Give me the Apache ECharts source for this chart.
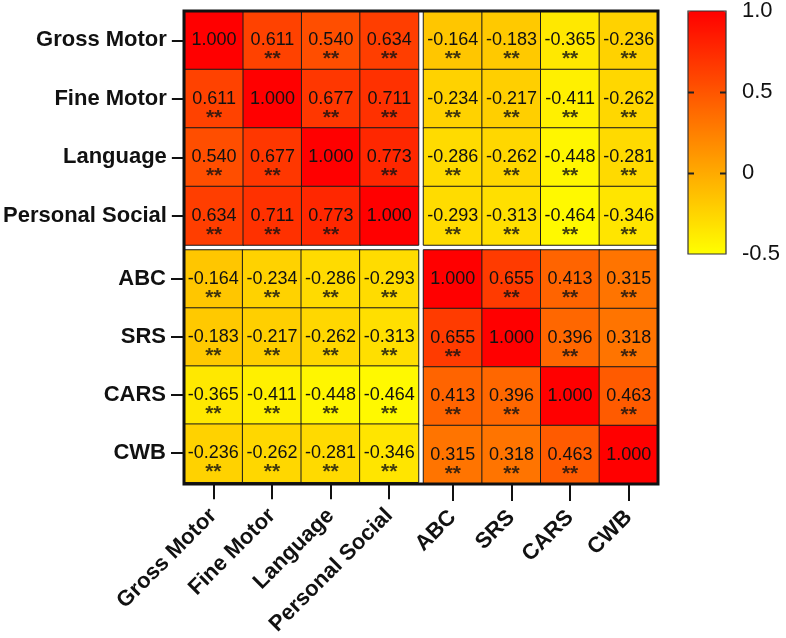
<!DOCTYPE html>
<html>
<head>
<meta charset="utf-8">
<script src="https://cdn.jsdelivr.net/npm/echarts@6/dist/echarts.min.js"></script>
<style>
html,body{margin:0;padding:0;background:#fff;}
#chart{width:786px;height:638px;}
</style>
</head>
<body>
<div id="chart"></div>
<script>
// ---- data ----
const developmentVars = ['Gross Motor', 'Fine Motor', 'Language', 'Personal Social'];
const autismVars = ['ABC', 'SRS', 'CARS', 'CWB'];
const rowGrossMotor    = [1.000, 0.611, 0.540, 0.634, -0.164, -0.183, -0.365, -0.236];
const rowFineMotor     = [0.611, 1.000, 0.677, 0.711, -0.234, -0.217, -0.411, -0.262];
const rowLanguage      = [0.540, 0.677, 1.000, 0.773, -0.286, -0.262, -0.448, -0.281];
const rowPersonalSoc   = [0.634, 0.711, 0.773, 1.000, -0.293, -0.313, -0.464, -0.346];
const rowABC           = [-0.164, -0.234, -0.286, -0.293, 1.000, 0.655, 0.413, 0.315];
const rowSRS           = [-0.183, -0.217, -0.262, -0.313, 0.655, 1.000, 0.396, 0.318];
const rowCARS          = [-0.365, -0.411, -0.448, -0.464, 0.413, 0.396, 1.000, 0.463];
const rowCWB           = [-0.236, -0.262, -0.281, -0.346, 0.315, 0.318, 0.463, 1.000];
const sigGrossMotor    = ['', '**', '**', '**', '**', '**', '**', '**'];
const sigFineMotor     = ['**', '', '**', '**', '**', '**', '**', '**'];
const sigLanguage      = ['**', '**', '', '**', '**', '**', '**', '**'];
const sigPersonalSoc   = ['**', '**', '**', '', '**', '**', '**', '**'];
const sigABC           = ['**', '**', '**', '**', '', '**', '**', '**'];
const sigSRS           = ['**', '**', '**', '**', '**', '', '**', '**'];
const sigCARS          = ['**', '**', '**', '**', '**', '**', '', '**'];
const sigCWB           = ['**', '**', '**', '**', '**', '**', '**', ''];
const colorbarTicks = { min: -0.5, max: 1.0, interval: 0.5 };
const colorStops = ['#FFFF00', '#FF0000'];

const matrix = [rowGrossMotor, rowFineMotor, rowLanguage, rowPersonalSoc, rowABC, rowSRS, rowCARS, rowCWB];
const sigMatrix = [sigGrossMotor, sigFineMotor, sigLanguage, sigPersonalSoc, sigABC, sigSRS, sigCARS, sigCWB];

// ---- layout ----
const FONT = "'Liberation Sans', Arial, sans-serif";
const X0 = 184, Y0 = 11, GAP = 5;
const BW = 234.5, BH = 234; // block sizes
const blocks = [
  { r: 0, c: 0 }, { r: 0, c: 1 }, { r: 1, c: 0 }, { r: 1, c: 1 }
];
const groups = [developmentVars, autismVars];

const chart = echarts.init(document.getElementById('chart'), null, { renderer: 'canvas' });

const grids = [], xAxes = [], yAxes = [], series = [];
blocks.forEach((b, i) => {
  grids.push({
    left: X0 + b.c * (BW + GAP), top: Y0 + b.r * (BH + GAP),
    width: BW, height: BH, containLabel: false
  });
  const showX = b.r === 1, showY = b.c === 0;
  xAxes.push({
    type: 'category', gridIndex: i, data: groups[b.c], position: 'bottom',
    axisLine: { show: false },
    axisTick: { show: showX, alignWithLabel: true, length: 17, lineStyle: { color: '#111', width: 2 } },
    axisLabel: { show: showX, rotate: 45, interval: 0, margin: 30, fontSize: 22, fontWeight: 'bold', color: '#111', fontFamily: FONT },
    splitLine: { show: false }
  });
  yAxes.push({
    type: 'category', gridIndex: i, data: groups[b.r], inverse: true,
    axisLine: { show: false },
    axisTick: { show: showY, alignWithLabel: true, length: 13, lineStyle: { color: '#111', width: 2 } },
    axisLabel: { show: showY, interval: 0, margin: 18, fontSize: 22, fontWeight: 'bold', color: '#111', fontFamily: FONT },
    splitLine: { show: false }
  });
  const hm = [], st = [];
  for (let yi = 0; yi < 4; yi++) {
    for (let xi = 0; xi < 4; xi++) {
      const R = b.r * 4 + yi, C = b.c * 4 + xi;
      hm.push([xi, yi, matrix[R][C]]);
      if (sigMatrix[R][C]) st.push([xi, yi, sigMatrix[R][C]]);
    }
  }
  series.push({
    type: 'heatmap', xAxisIndex: i, yAxisIndex: i, data: hm,
    itemStyle: { borderColor: '#1a1a1a', borderWidth: 1 },
    label: {
      show: true, fontSize: 18, color: '#111', fontFamily: FONT,
      formatter: p => p.value[2].toFixed(3)
    },
    emphasis: { disabled: true }
  });
  series.push({
    type: 'scatter', xAxisIndex: i, yAxisIndex: i, data: st,
    symbolSize: 1, itemStyle: { color: 'rgba(0,0,0,0)' },
    label: {
      show: true, position: 'inside', offset: [0, 19], fontSize: 21, fontWeight: 'bold', color: '#111', fontFamily: FONT,
      formatter: p => p.value[2]
    },
    z: 5, silent: true
  });
});

// colorbar: visualMap bar + an axis frame on top of it
const CB = { left: 688, top: 11, width: 38, height: 243 };
grids.push({
  show: true, z: 10, left: CB.left, top: CB.top, width: CB.width, height: CB.height,
  backgroundColor: 'transparent', borderColor: '#333', borderWidth: 1.2
});
xAxes.push({ type: 'value', gridIndex: 4, min: 0, max: 1, show: false });
const cbLabelFmt = v => (v === 0 ? '0' : v.toFixed(1));
yAxes.push({
  type: 'value', gridIndex: 4, position: 'right', z: 12,
  min: colorbarTicks.min, max: colorbarTicks.max, interval: colorbarTicks.interval,
  axisLine: { show: false }, splitLine: { show: false },
  axisTick: { show: false },
  axisLabel: { show: true, margin: 16, fontSize: 22, color: '#111', fontFamily: FONT, formatter: cbLabelFmt }
});

const option = {
  backgroundColor: '#fff',
  animation: false,
  grid: grids,
  xAxis: xAxes,
  yAxis: yAxes,
  visualMap: {
    show: true, type: 'continuous', seriesIndex: [0, 2, 4, 6],
    min: colorbarTicks.min, max: colorbarTicks.max,
    inRange: { color: colorStops },
    left: CB.left, top: CB.top, itemWidth: CB.width, itemHeight: CB.height,
    padding: 0, calculable: false, hoverLink: false, text: null, z: 4
  },
  graphic: [{
    type: 'rect', z: 100, silent: true,
    shape: { x: X0, y: Y0, width: 2 * BW + GAP, height: 2 * BH + GAP },
    style: { fill: null, stroke: '#111', lineWidth: 3 }
  }],
  series: series
};
chart.setOption(option);

// inward tick marks on both edges of the colour bar, placed through the colour-bar axis
const tickEls = [];
const TL = 6;
for (let v = colorbarTicks.min + colorbarTicks.interval; v < colorbarTicks.max - 1e-9; v += colorbarTicks.interval) {
  const y = Math.round(chart.convertToPixel({ yAxisIndex: 4 }, v)) + 0.5;
  [[CB.left, CB.left + TL], [CB.left + CB.width - TL, CB.left + CB.width]].forEach(([xa, xb]) => {
    tickEls.push({
      type: 'line', z: 101, silent: true,
      shape: { x1: xa, y1: y, x2: xb, y2: y },
      style: { stroke: '#222', lineWidth: 2 }
    });
  });
}
chart.setOption({ graphic: option.graphic.concat(tickEls) });
</script>
</body>
</html>
